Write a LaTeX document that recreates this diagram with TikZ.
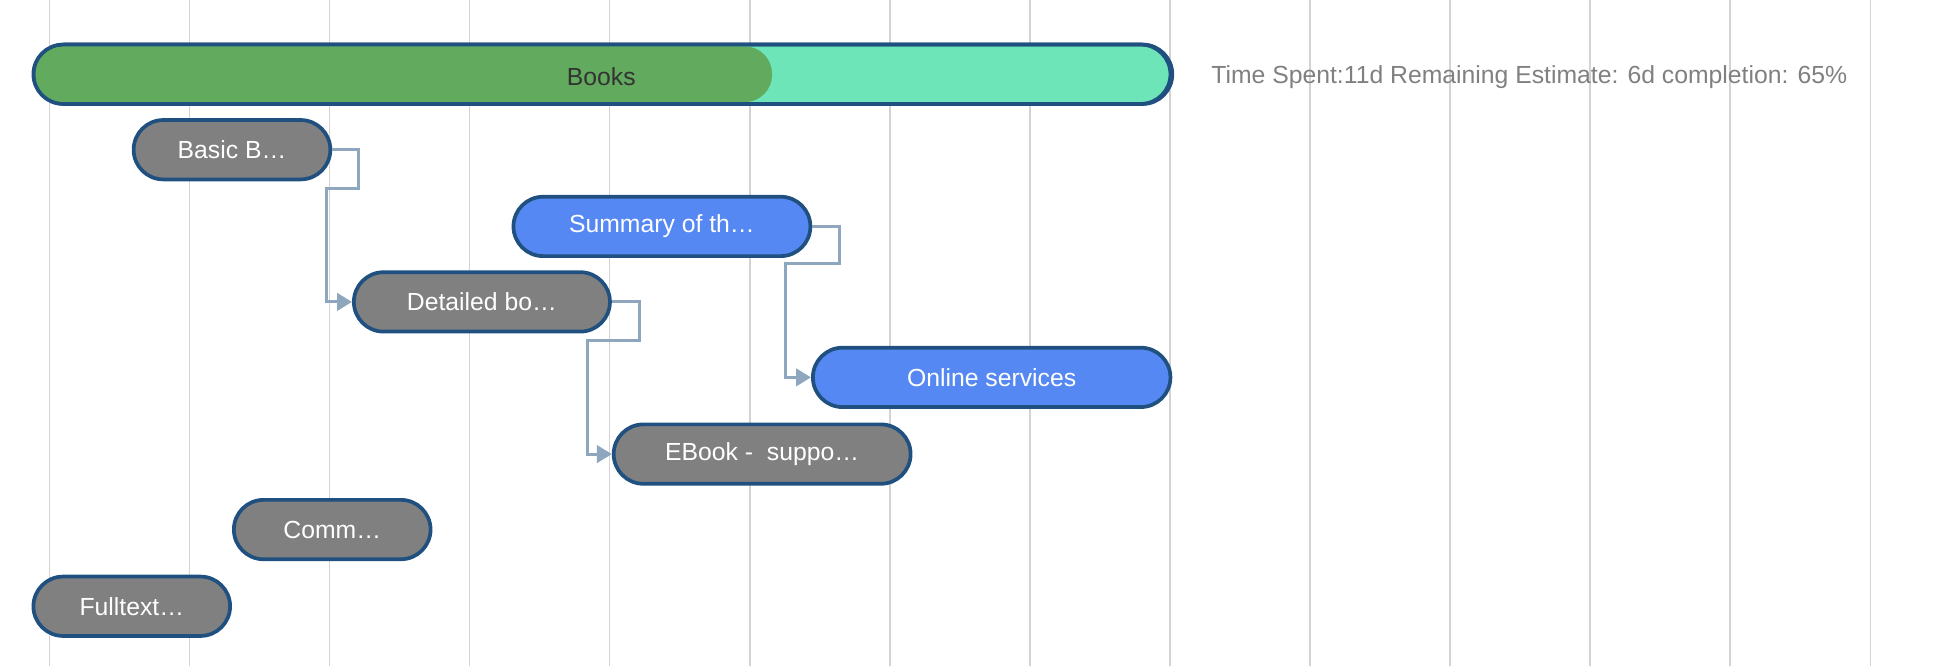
\documentclass[tikz,border=0pt]{standalone}
\usepackage{fontspec}
\setmainfont{Liberation Sans}
\usetikzlibrary{arrows.meta, positioning}
\definecolor{barline}{HTML}{1F5080}
\definecolor{done}{HTML}{62AA5D}
\definecolor{todo}{HTML}{6EE5B8}
\definecolor{taskgray}{HTML}{808080}
\definecolor{taskblue}{HTML}{5588F2}
\definecolor{linkcol}{HTML}{8FA6BF}
\definecolor{gridcol}{HTML}{D3D3D3}
\tikzset{
        x=0.5pt, y=-0.5pt,
        task/.style={draw=barline, line width=1.5pt, rounded corners=12pt, minimum height=24pt,
                     inner sep=0pt, text=white, font=\fontsize{10}{12}\selectfont}, % every bar
        gray task/.style={task, fill=taskgray},
        blue task/.style={task, fill=taskblue},
        link/.style={draw=linkcol, line width=1.2pt, -{Triangle[length=6pt,width=7pt]}},
    }
\begin{document}
\begin{tikzpicture}
    \useasboundingbox (0,0) rectangle (1568,538);
    \foreach \i in {0,...,13}
      \draw[gridcol, line width=0.6pt] ({40+113.2*\i},0) -- ({40+113.2*\i},538);
    % summary bar
    \node[task, fill=todo, minimum width=459.5pt, anchor=west] (books) at (27,60) {};
    \fill[done, rounded corners=11pt] (28.5,37.5) rectangle (624,82.5);
    \draw[barline, line width=1.5pt, rounded corners=12pt] (27,36) rectangle (946,84);
    \node[text=black!80, font=\fontsize{10}{12}\selectfont] at (486,62) {Books};
    \node[anchor=west, text=taskgray, font=\fontsize{10}{12}\selectfont] (info) at (972,62)
      {Time Spent:11d Remaining Estimate: 6d completion: 65\%};
    % tasks
    \node[gray task, minimum width=79.5pt] (basic) at (187.5,121) {Basic B…};
    \node[blue task, minimum width=120pt] (summary) at (535,183) {Summary of th…};
    \node[gray task, minimum width=103.5pt] (detailed) at (389.5,244) {Detailed bo…};
    \node[blue task, minimum width=144.5pt] (online) at (801.5,305) {Online services};
    \node[gray task, minimum width=120pt] (ebook) at (616,367) {EBook -\ \ suppo…};
    \node[gray task, minimum width=79.5pt] (comm) at (268.5,428) {Comm…};
    \node[gray task, minimum width=79.5pt] (fulltext) at (106.5,490) {Fulltext…};
    % dependencies
    \draw[link] (basic.east) -- ++(21,0) -- ++(0,31) -| ([xshift=-10.5pt]detailed.west) -- (detailed.west);
    \draw[link] (summary.east) -- ++(22,0) -- ++(0,30) -| ([xshift=-10.5pt]online.west) -- (online.west);
    \draw[link] (detailed.east) -- ++(22,0) -- ++(0,31) -| ([xshift=-10pt]ebook.west) -- (ebook.west);
\end{tikzpicture}
\end{document}
